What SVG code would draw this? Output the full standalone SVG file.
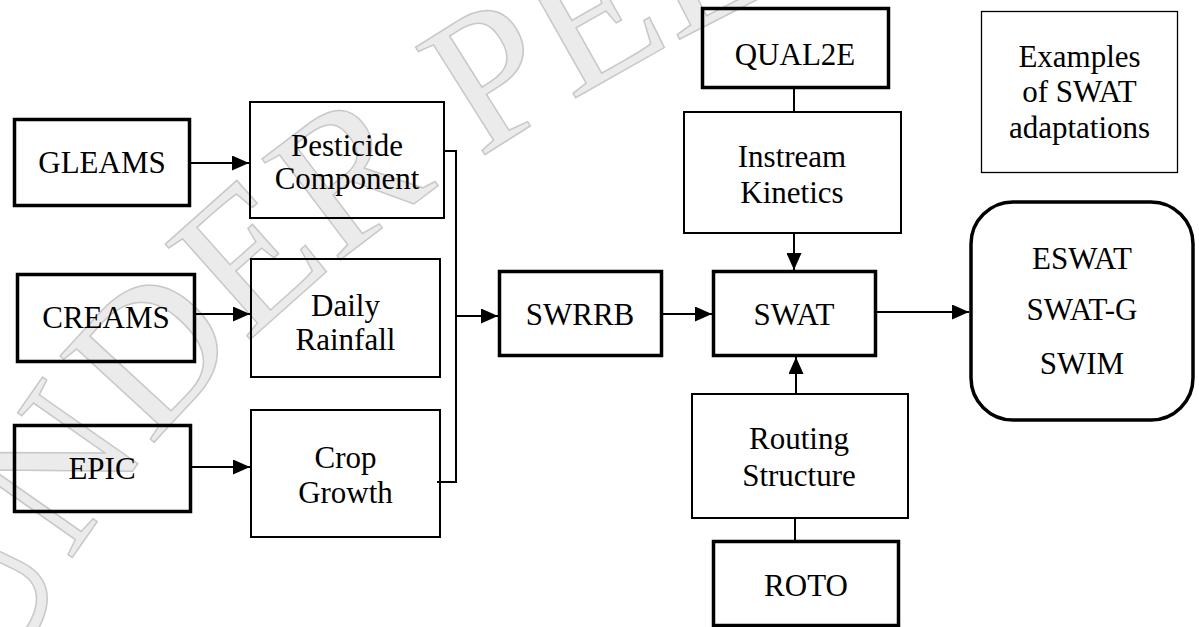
<svg xmlns="http://www.w3.org/2000/svg" xmlns:xlink="http://www.w3.org/1999/xlink" width="1199" height="627" viewBox="0 0 1199 627">
<style>
  .box { fill: none; stroke: #000; }
  .thick { stroke-width: 3.5; }
  .thin { stroke-width: 2; }
  .hair { stroke-width: 1.3; }
  .lbl { font-family: "Liberation Serif", serif; font-size: 31px; fill: #000; text-anchor: middle; }
  .conn { fill: none; stroke: #000; stroke-width: 2; }
  .wm { font-family: "Liberation Serif", serif; font-size: 195px; fill: #ebebeb; stroke: #c8c8c8; stroke-width: 1.5; }
</style>
<defs>
  <marker id="arr" markerUnits="userSpaceOnUse" markerWidth="17" markerHeight="15" refX="17" refY="7.5" orient="auto">
    <path d="M0,0 L17,7.5 L0,15 z" fill="#000"/>
  </marker>
  <path id="wmpath" d="M 10,690 Q 170,270 840,-40"/>
</defs>
<rect width="1199" height="627" fill="#fff"/>
<g id="watermark">
  <text class="wm"><textPath xlink:href="#wmpath">UNDER PEER REVIEW</textPath></text>
</g>
<g id="connectors">
  <path class="conn" d="M191,163 H249" marker-end="url(#arr)"/>
  <path class="conn" d="M196,314 H250" marker-end="url(#arr)"/>
  <path class="conn" d="M192,467 H250" marker-end="url(#arr)"/>
  <path class="conn" d="M445,151 H456 V482 H437"/>
  <path class="conn" d="M456,316 H498" marker-end="url(#arr)"/>
  <path class="conn" d="M663,314 H712" marker-end="url(#arr)"/>
  <path class="conn" d="M877,312 H969" marker-end="url(#arr)"/>
  <path class="conn" d="M794,89 V111"/>
  <path class="conn" d="M794,234 V270" marker-end="url(#arr)"/>
  <path class="conn" d="M796,393 V357" marker-end="url(#arr)"/>
  <path class="conn" d="M795,519 V540"/>
</g>
<g id="gleams">
  <rect class="box thick" x="14.5" y="119.5" width="175" height="86"/>
  <text class="lbl" x="102" y="173">GLEAMS</text>
</g>
<g id="pesticide">
  <rect class="box thin" x="250" y="102" width="194" height="116"/>
  <text class="lbl" x="347" y="156">Pesticide</text>
  <text class="lbl" x="347" y="189">Component</text>
</g>
<g id="creams">
  <rect class="box thick" x="17.5" y="274.5" width="177" height="87"/>
  <text class="lbl" x="106" y="328">CREAMS</text>
</g>
<g id="daily-rainfall">
  <rect class="box thin" x="251" y="259" width="189" height="118"/>
  <text class="lbl" x="345.5" y="316">Daily</text>
  <text class="lbl" x="345.5" y="350">Rainfall</text>
</g>
<g id="epic">
  <rect class="box thick" x="14.5" y="425.5" width="176" height="86"/>
  <text class="lbl" x="102" y="479">EPIC</text>
</g>
<g id="crop-growth">
  <rect class="box thin" x="251" y="410" width="189" height="127"/>
  <text class="lbl" x="345.5" y="468">Crop</text>
  <text class="lbl" x="345.5" y="503">Growth</text>
</g>
<g id="swrrb">
  <rect class="box thick" x="499.5" y="271.5" width="162" height="84"/>
  <text class="lbl" x="580" y="325">SWRRB</text>
</g>
<g id="swat">
  <rect class="box thick" x="713.5" y="271.5" width="162" height="84"/>
  <text class="lbl" x="794" y="325">SWAT</text>
</g>
<g id="qual2e">
  <rect class="box thick" x="702.5" y="8.5" width="186" height="79"/>
  <text class="lbl" x="795" y="65">QUAL2E</text>
</g>
<g id="instream-kinetics">
  <rect class="box thin" x="684" y="112" width="217" height="121"/>
  <text class="lbl" x="792" y="167">Instream</text>
  <text class="lbl" x="792" y="203">Kinetics</text>
</g>
<g id="routing-structure">
  <rect class="box thin" x="692" y="394" width="216" height="124"/>
  <text class="lbl" x="799" y="449">Routing</text>
  <text class="lbl" x="799" y="486">Structure</text>
</g>
<g id="roto">
  <rect class="box thick" x="713.5" y="541.5" width="185" height="84"/>
  <text class="lbl" x="806" y="596">ROTO</text>
</g>
<g id="examples">
  <rect class="box hair" x="981.5" y="11.5" width="196" height="161"/>
  <text class="lbl" x="1079.5" y="67">Examples</text>
  <text class="lbl" x="1079.5" y="102">of SWAT</text>
  <text class="lbl" x="1079.5" y="138">adaptations</text>
</g>
<g id="adaptations">
  <rect class="box thick" x="971" y="202" width="222" height="218" rx="42" ry="42"/>
  <text class="lbl" x="1082" y="269">ESWAT</text>
  <text class="lbl" x="1082" y="320">SWAT-G</text>
  <text class="lbl" x="1082" y="374">SWIM</text>
</g>
</svg>
